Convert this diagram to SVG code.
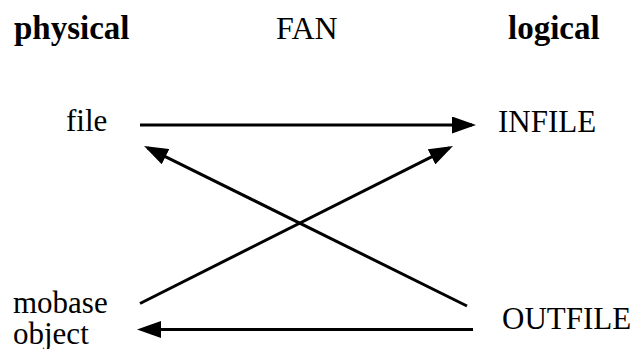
<svg xmlns="http://www.w3.org/2000/svg" width="638" height="349" viewBox="0 0 638 349">
<style>
text{font-family:"Liberation Serif","Times New Roman",serif;fill:#000}
.t{font-size:33px;font-weight:bold}
.n{font-size:31px}
.c{stroke:#000;stroke-width:3;fill:none}
</style>
<defs>
<marker id="ah" markerUnits="userSpaceOnUse" markerWidth="24" markerHeight="17" viewBox="0 0 24 17" refX="20" refY="8.5" orient="auto">
<path d="M0,0 L24,8.5 L0,17 z" fill="#000"/>
</marker>
</defs>
<g id="title-physical"><text class="t" x="14" y="39">physical</text></g>
<g id="title-fan"><text x="276" y="39" style="font-size:32px">FAN</text></g>
<g id="title-logical"><text class="t" x="508" y="39">logical</text></g>
<g id="node-file"><text class="n" x="66" y="131">file</text></g>
<g id="node-infile"><text class="n" x="498" y="132">INFILE</text></g>
<g id="node-mobase"><text class="n" x="13" y="313">mobase</text><text class="n" x="13" y="344">object</text></g>
<g id="node-outfile"><text class="n" x="502" y="329">OUTFILE</text></g>
<g id="connectors">
<path class="c" d="M140,125 L472,125" marker-end="url(#ah)"/>
<path class="c" d="M467,306 L147.6,147.8" marker-end="url(#ah)"/>
<path class="c" d="M140,303.5 L449.4,147.8" marker-end="url(#ah)"/>
<path class="c" d="M473,329.5 L141,329.5" marker-end="url(#ah)"/>
</g>
</svg>
